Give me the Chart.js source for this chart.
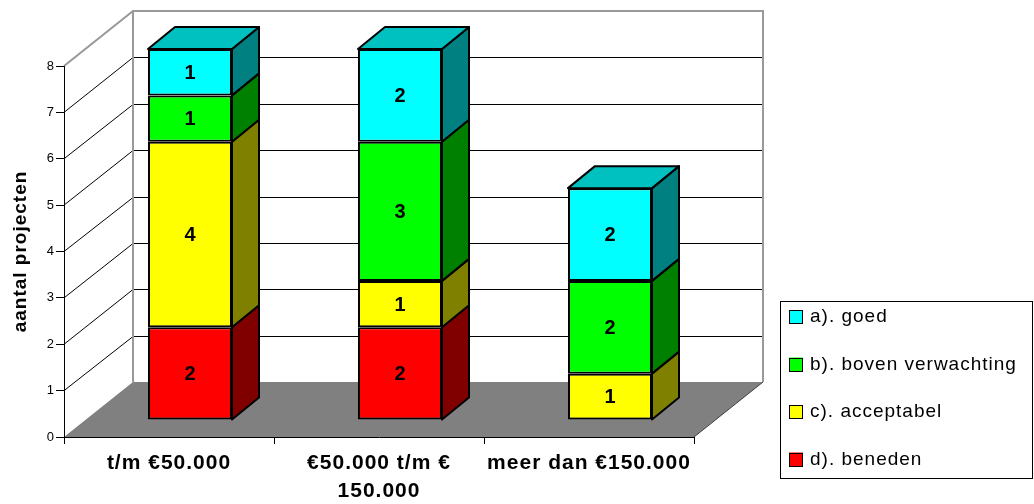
<!DOCTYPE html>
<html>
<head>
<meta charset="utf-8">
<script src="https://cdn.jsdelivr.net/npm/chart.js@4.4.1/dist/chart.umd.min.js"></script>
<style>
  html, body { margin: 0; padding: 0; background: #fff; }
  #wrap { width: 1034px; height: 504px; position: relative; }
</style>
</head>
<body>
<div id="wrap"><canvas id="chart"></canvas></div>
<script>
// data
const categories = ['t/m €50.000', ['€50.000 t/m €', '150.000'], 'meer dan €150.000'];
const beneden = [2, 2, 0];
const acceptabel = [4, 1, 1];
const bovenVerwachting = [1, 3, 2];
const goed = [1, 2, 2];
const yTicks = [0, 1, 2, 3, 4, 5, 6, 7, 8];
const seriesNames = ['d). beneden', 'c). acceptabel', 'b). boven verwachting', 'a). goed'];

const FONT = "'Liberation Sans', Arial, sans-serif";

// colours: front, side, top
const colors = [
  ['#ff0000', '#800000', '#c00000'],
  ['#ffff00', '#808000', '#c0c000'],
  ['#00ff00', '#008000', '#00c000'],
  ['#00ffff', '#008080', '#00c0c0']
];

// 3D geometry (px)
const DX = 69, DY = -55;          // depth of the whole box
const SHIFT_X = 21, SHIFT_Y = -17; // bars sit a bit behind the front plane
const BDX = 27, BDY = -22;        // depth of a bar

function poly(ctx, pts) {
  ctx.beginPath();
  ctx.moveTo(pts[0][0], pts[0][1]);
  for (let i = 1; i < pts.length; i++) ctx.lineTo(pts[i][0], pts[i][1]);
  ctx.closePath();
}

const box3d = {
  id: 'box3d',
  beforeDraw(chart) {
    const ctx = chart.ctx, a = chart.chartArea, y = chart.scales.y;
    ctx.letterSpacing = '1px';
    ctx.save();
    ctx.fillStyle = '#fff';
    ctx.fillRect(0, 0, chart.width, chart.height);

    const x0 = a.left, x1 = a.right;
    const yb = y.getPixelForValue(yTicks[0]);
    const yt = y.getPixelForValue(yTicks[yTicks.length - 1]);

    // floor
    ctx.fillStyle = '#808080';
    poly(ctx, [[x0, yb], [x1, yb], [x1 + DX, yb + DY], [x0 + DX, yb + DY]]);
    ctx.fill();
    ctx.strokeStyle = '#404040';
    ctx.lineWidth = 1;
    ctx.beginPath();
    ctx.moveTo(x1, yb);
    ctx.lineTo(x1 + DX, yb + DY);
    ctx.stroke();

    // grid lines on the side and back wall
    ctx.strokeStyle = '#000';
    ctx.lineWidth = 1;
    yTicks.slice(1, -1).forEach(v => {
      const yp = y.getPixelForValue(v);
      const yk = Math.round(yp + DY) + 0.5;
      ctx.beginPath();
      ctx.moveTo(x0, yp);
      ctx.lineTo(x0 + DX, yk);
      ctx.lineTo(x1 + DX, yk);
      ctx.stroke();
    });

    // wall outline
    ctx.strokeStyle = '#999';
    ctx.lineWidth = 2;
    ctx.beginPath();
    ctx.moveTo(x0, yt);
    ctx.lineTo(x0 + DX, yt + DY);
    ctx.lineTo(x1 + DX, yt + DY);
    ctx.lineTo(x1 + DX, yb + DY);
    ctx.moveTo(x0 + DX, yt + DY);
    ctx.lineTo(x0 + DX, yb + DY);
    ctx.stroke();
    ctx.restore();
  },
  beforeDatasetsDraw(chart) {
    chart.ctx.save();
    chart.ctx.translate(SHIFT_X, SHIFT_Y);
  },
  afterDatasetsDraw(chart) {
    const ctx = chart.ctx;
    const ds = chart.data.datasets;
    ctx.lineWidth = 2;
    ctx.lineJoin = 'round';
    ctx.strokeStyle = '#000';
    chart.data.labels.forEach((lab, i) => {
      let topEl = null, topDi = -1;
      ds.forEach((d, di) => {
        if (!d.data[i]) return;
        const el = chart.getDatasetMeta(di).data[i];
        const r = el.x + el.width / 2;
        poly(ctx, [[r, el.y], [r + BDX, el.y + BDY], [r + BDX, el.base + BDY], [r, el.base]]);
        ctx.fillStyle = colors[di][1];
        ctx.fill();
        ctx.stroke();
        topEl = el; topDi = di;
      });
      if (topEl) {
        const l = topEl.x - topEl.width / 2, r = topEl.x + topEl.width / 2, t = topEl.y;
        poly(ctx, [[l, t], [l + BDX, t + BDY], [r + BDX, t + BDY], [r, t]]);
        ctx.fillStyle = colors[topDi][2];
        ctx.fill();
        ctx.stroke();
      }
    });
    // value labels
    ctx.fillStyle = '#000';
    ctx.letterSpacing = '0px';
    ctx.font = 'bold 20px ' + FONT;
    ctx.textAlign = 'center';
    ctx.textBaseline = 'middle';
    ds.forEach((d, di) => {
      chart.getDatasetMeta(di).data.forEach((el, i) => {
        if (!d.data[i]) return;
        ctx.fillText(String(d.data[i]), el.x, (el.y + el.base) / 2 + 1);
      });
    });
    ctx.restore();
  },
  afterDraw(chart) {
    const ctx = chart.ctx;
    ctx.save();
    // legend box
    ctx.strokeStyle = '#000';
    ctx.lineWidth = 1;
    ctx.strokeRect(780.5, 301.5, 252, 177);
    ctx.font = '19px ' + FONT;
    ctx.textAlign = 'left';
    ctx.textBaseline = 'middle';
    const order = [3, 2, 1, 0];
    order.forEach((di, k) => {
      const cy = 317 + k * 47.5;
      ctx.fillStyle = colors[di][0];
      ctx.fillRect(789, cy - 7, 14, 14);
      ctx.strokeRect(789.5, Math.round(cy - 7) + 0.5, 13, 13);
      ctx.fillStyle = '#000';
      ctx.fillText(chart.data.datasets[di].label, 810, cy);
    });
    ctx.restore();
  }
};

const seriesValues = [beneden, acceptabel, bovenVerwachting, goed];

new Chart(document.getElementById('chart'), {
  type: 'bar',
  data: {
    labels: categories,
    datasets: seriesValues.map((vals, i) => ({
      label: seriesNames[i],
      data: vals,
      backgroundColor: colors[i][0],
      borderColor: '#000',
      borderWidth: ctx => (ctx.raw ? 2 : 0),
      borderSkipped: false,
      barPercentage: 0.4,
      categoryPercentage: 1,
      clip: false
    }))
  },
  options: {
    responsive: true,
    maintainAspectRatio: false,
    animation: false,
    layout: { padding: { top: 66, right: 340, left: 0, bottom: 0 } },
    plugins: {
      legend: { display: false },
      tooltip: { enabled: false }
    },
    scales: {
      x: {
        stacked: true,
        grid: { display: true, drawOnChartArea: false, drawTicks: true, tickLength: 7, color: '#000', offset: true },
        border: { display: true, color: '#000', width: 1 },
        ticks: {
          color: '#000',
          font: { family: FONT, size: 21, weight: 'bold', lineHeight: 1.3 },
          padding: 6,
          maxRotation: 0,
          autoSkip: false
        },
        afterFit(s) { s.height = 67; }
      },
      y: {
        stacked: true,
        min: 0,
        max: 8,
        afterBuildTicks(s) { s.ticks = yTicks.map(v => ({ value: v })); },
        grid: { display: true, drawOnChartArea: false, drawTicks: true, tickLength: 8, color: '#000' },
        border: { display: true, color: '#000', width: 1 },
        ticks: { color: '#000', font: { family: FONT, size: 13 }, padding: 1 },
        title: {
          display: true,
          text: 'aantal projecten',
          color: '#000',
          font: { family: FONT, size: 19, weight: 'bold' },
          padding: { top: 9, bottom: 0 }
        },
        afterFit(s) { s.width = 64; }
      }
    }
  },
  plugins: [box3d]
});
</script>
</body>
</html>
